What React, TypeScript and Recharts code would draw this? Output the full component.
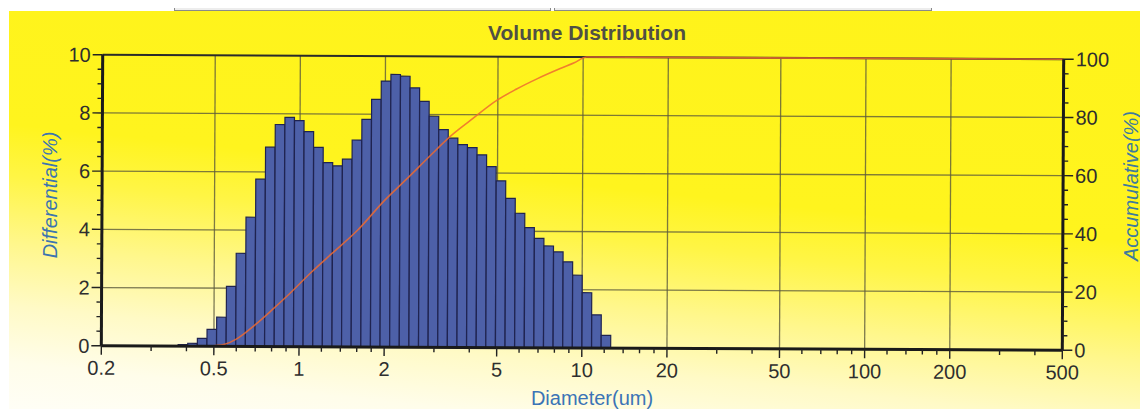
import React from 'react';
import { ComposedChart, Bar, Line, XAxis, YAxis, CartesianGrid } from 'recharts';

const FONT = '"Liberation Sans", Arial, Helvetica, sans-serif';

// histogram bins: centre diameter (um) and differential volume (%)
const diameters = [
  0.3886, 0.4202, 0.4544, 0.4914, 0.5313, 0.5746, 0.6213, 0.6719, 0.7266, 0.7857,
  0.8497, 0.9192, 0.994, 1.075, 1.163, 1.257, 1.36, 1.47, 1.59, 1.72,
  1.86, 2.011, 2.175, 2.352, 2.544, 2.751, 2.975, 3.217, 3.479, 3.762,
  4.069, 4.4, 4.758, 5.146, 5.565, 6.018, 6.508, 7.038, 7.611, 8.231,
  8.901, 9.625, 10.41, 11.26, 12.17,
];
const differential = [
  0.05, 0.1, 0.27, 0.58, 1.0, 2.06, 3.2, 4.44, 5.75, 6.85,
  7.63, 7.88, 7.77, 7.39, 6.85, 6.33, 6.22, 6.45, 7.11, 7.82,
  8.51, 9.14, 9.37, 9.31, 8.91, 8.45, 7.94, 7.48, 7.19, 6.97,
  6.87, 6.62, 6.22, 5.73, 5.13, 4.62, 4.13, 3.76, 3.5, 3.3,
  2.96, 2.5, 1.9, 1.14, 0.44,
];

// accumulative curve (orange line)
const cumDiameters = [0.2, 0.45, 0.5, 0.55, 0.6, 0.7, 0.8, 0.92, 1.1, 1.3, 1.6, 2.0, 2.4, 2.9, 3.4, 4.0, 5.0, 5.8, 6.9, 8.3, 9.3, 10.3, 500];
const cumulative = [0, 0, 0.2, 0.8, 2.5, 7.5, 12.5, 18, 25.5, 32, 40, 50.5, 58, 66, 72.5, 78, 85.2, 88.8, 92.5, 96, 98, 100, 100];

const xTicks = [
  0.2, 0.3, 0.4, 0.5, 0.6, 0.7, 0.8, 0.9, 1, 1.2, 1.4, 1.6, 1.8, 2, 3, 4, 5, 6, 7, 8, 9, 10,
  12, 14, 16, 18, 20, 30, 40, 50, 60, 70, 80, 90, 100, 120, 140, 160, 180, 200, 300, 400, 500,
];
const xLabels = [0.2, 0.5, 1, 2, 5, 10, 20, 50, 100, 200, 500];
const xGrid = [0.5, 1, 2, 5, 10, 20, 50, 100, 200];
const leftTicks = [0, 0.5, 1, 1.5, 2, 2.5, 3, 3.5, 4, 4.5, 5, 5.5, 6, 6.5, 7, 7.5, 8, 8.5, 9, 9.5, 10];
const rightTicks = [0, 5, 10, 15, 20, 25, 30, 35, 40, 45, 50, 55, 60, 65, 70, 75, 80, 85, 90, 95, 100];
const leftGrid = [2, 4, 6, 8];

const binData = diameters.map((d, i) => ({ d, v: differential[i] }));
const cumData = cumDiameters.map((d, i) => ({ d, c: cumulative[i] }));

const TICK_COLOR = '#2e2e2e';

const BottomTick = (props: any) => {
  const { x, y, payload } = props;
  const major = xLabels.indexOf(payload.value) >= 0;
  return (
    <g>
      <line x1={x} y1={y} x2={x} y2={y + (major ? 9 : 5)} stroke="#222" strokeWidth={1.4} />
      {major && (
        <text x={x} y={y + 29} textAnchor="middle" fontSize={20} fill={TICK_COLOR} fontFamily={FONT}>
          {payload.value}
        </text>
      )}
    </g>
  );
};

const LeftTick = (props: any) => {
  const { x, y, payload } = props;
  const major = payload.value % 2 === 0;
  return (
    <g>
      <line x1={x} y1={y} x2={x - (major ? 10 : 5)} y2={y} stroke="#222" strokeWidth={1.4} />
      {major && (
        <text x={x - 12} y={y + 7} textAnchor="end" fontSize={20} fill={TICK_COLOR} fontFamily={FONT}>
          {payload.value}
        </text>
      )}
    </g>
  );
};

const RightTick = (props: any) => {
  const { x, y, payload } = props;
  const major = payload.value % 20 === 0;
  return (
    <g>
      <line x1={x} y1={y} x2={x + (major ? 10 : 5)} y2={y} stroke="#222" strokeWidth={1.4} />
      {major && (
        <text x={x + 12} y={y + 7} textAnchor="start" fontSize={20} fill={TICK_COLOR} fontFamily={FONT}>
          {payload.value}
        </text>
      )}
    </g>
  );
};

// the two cut-off table cells above the chart
const Box = ({ left, right, divider }: { left: number; right: number; divider: number }) => (
  <>
    <div
      style={{
        position: 'absolute',
        boxSizing: 'border-box',
        left,
        top: -10,
        width: right - left,
        height: 21,
        border: '1px solid #8a8a8a',
        background: '#ededed',
      }}
    />
    <div
      style={{
        position: 'absolute',
        boxSizing: 'border-box',
        left: left + 6,
        top: -10,
        width: right - left - 9,
        height: 14,
        border: '2px solid #4a4a4a',
        background: '#fff',
      }}
    />
    <div style={{ position: 'absolute', left: divider, top: 0, width: 2, height: 3, background: '#333' }} />
  </>
);

export default function App() {
  return (
    <div
      style={{
        position: 'relative',
        width: 1148,
        height: 409,
        marginTop: -8,
        marginLeft: -8,
        overflow: 'hidden',
        background: '#fff',
        fontFamily: FONT,
      }}
    >
      <Box left={174} right={551} divider={366} />
      <Box left={554} right={932} divider={776} />

      <div
        style={{
          position: 'absolute',
          left: 9,
          top: 11,
          right: 0,
          bottom: 0,
          background:
            'linear-gradient(186deg, #fff31a 0%, #fff41e 45%, #fff545 55%, #fff78c 68%, #fffac6 80%, #fffdea 91%, #fffef6 100%)',
        }}
      />

      <div style={{ position: 'absolute', left: 0, top: 0, transform: 'rotate(0.27deg)', transformOrigin: '582px 203px' }}>
        <ComposedChart width={1148} height={409} data={binData} margin={{ top: 57, right: 25, bottom: 21, left: 42 }}>
          <CartesianGrid
            yAxisId="left"
            horizontalValues={leftGrid}
            verticalValues={xGrid}
            stroke="#5c5a3c"
            strokeOpacity={0.8}
            strokeWidth={1.3}
          />
          <CartesianGrid yAxisId="left" horizontalValues={[10]} vertical={false} stroke="#2a2a2a" strokeWidth={2} />
          <XAxis
            dataKey="d"
            type="number"
            scale="log"
            domain={[0.2, 500]}
            allowDataOverflow
            ticks={xTicks}
            interval={0}
            height={40}
            tickSize={0}
            tickMargin={0}
            tickLine={false}
            tick={BottomTick}
            axisLine={{ stroke: '#1a1a1a', strokeWidth: 3 }}
          />
          <XAxis xAxisId="line" dataKey="d" type="number" scale="log" domain={[0.2, 500]} allowDataOverflow hide />
          <YAxis
            yAxisId="left"
            domain={[0, 10]}
            ticks={leftTicks}
            interval={0}
            width={60}
            tickSize={0}
            tickMargin={0}
            tickLine={false}
            tick={LeftTick}
            axisLine={{ stroke: '#1a1a1a', strokeWidth: 3 }}
          />
          <YAxis
            yAxisId="right"
            orientation="right"
            domain={[0, 100]}
            ticks={rightTicks}
            interval={0}
            width={60}
            tickSize={0}
            tickMargin={0}
            tickLine={false}
            tick={RightTick}
            axisLine={{ stroke: '#1a1a1a', strokeWidth: 3 }}
          />
          <Bar
            yAxisId="left"
            dataKey="v"
            fill="#4d60a8"
            stroke="#1f2350"
            strokeWidth={1.2}
            barSize={9.5}
            isAnimationActive={false}
          />
          <Line
            xAxisId="line"
            yAxisId="right"
            data={cumData}
            dataKey="c"
            type="monotone"
            stroke="#ee6a30"
            strokeOpacity={0.85}
            strokeWidth={1.6}
            dot={false}
            isAnimationActive={false}
          />
        </ComposedChart>
      </div>

      <svg width={1148} height={409} style={{ position: 'absolute', left: 0, top: 0, pointerEvents: 'none' }}>
        <text x={587} y={40} textAnchor="middle" fontSize={21} fontWeight="bold" fill="#505044" fontFamily={FONT}>
          Volume Distribution
        </text>
        <text
          x={57}
          y={195}
          transform="rotate(-90 57 195)"
          textAnchor="middle"
          fontSize={20}
          fontStyle="italic"
          fill="#3b74b0"
          fontFamily={FONT}
        >
          Differential(%)
        </text>
        <text
          x={1138}
          y={186}
          transform="rotate(-90 1138 186)"
          textAnchor="middle"
          fontSize={20}
          fontStyle="italic"
          fill="#3d7a9e"
          fontFamily={FONT}
        >
          Accumulative(%)
        </text>
        <text x={592} y={405} textAnchor="middle" fontSize={20} fill="#3b74b6" fontFamily={FONT}>
          Diameter(um)
        </text>
      </svg>
    </div>
  );
}
